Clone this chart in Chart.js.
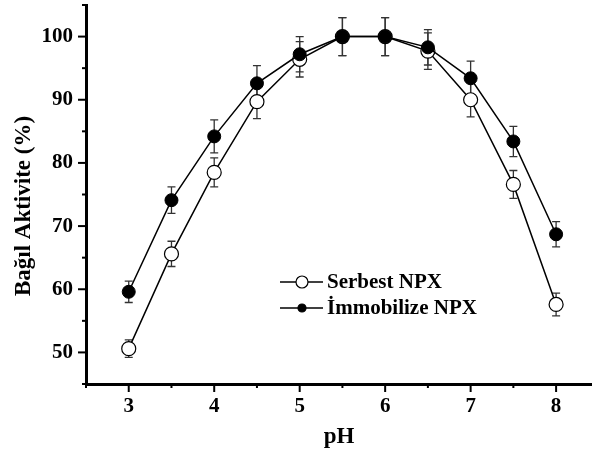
<!DOCTYPE html>
<html>
<head>
<meta charset="utf-8">
<script src="https://cdn.jsdelivr.net/npm/chart.js@4.4.0/dist/chart.umd.min.js"></script>
<style>
  html, body { margin: 0; padding: 0; background: #fff; }
  #wrap { width: 592px; height: 454px; }
</style>
</head>
<body>
<div id="wrap"><canvas id="chart" width="592" height="454"></canvas></div>
<script>
const phValues = [3, 3.5, 4, 4.5, 5, 5.5, 6, 6.5, 7, 7.5, 8];
const serbest = [50.6, 65.6, 78.5, 89.7, 96.4, 100, 100, 97.7, 90.0, 76.6, 57.6];
const serbestErr = [1.4, 2.0, 2.3, 2.7, 2.8, 3.0, 3.0, 2.9, 2.7, 2.2, 1.8];
const immobilize = [59.6, 74.1, 84.2, 92.6, 97.2, 100, 100, 98.3, 93.4, 83.4, 68.7];
const immobilizeErr = [1.7, 2.1, 2.6, 2.8, 2.8, 3.0, 3.0, 2.8, 2.7, 2.4, 2.0];
const xMajorTicks = [3, 4, 5, 6, 7, 8];
const xMinorTicks = [2.5, 3.5, 4.5, 5.5, 6.5, 7.5];
const yMajorTicks = [50, 60, 70, 80, 90, 100];
const yMinorTicks = [45, 55, 65, 75, 85, 95, 105];
const seriesLabels = ["Serbest NPX", "İmmobilize NPX"];
const xTitle = "pH";
const yTitle = "Bağıl Aktivite (%)";

const FONT = "'Liberation Serif', 'Times New Roman', serif";
Chart.defaults.font.family = FONT;
Chart.defaults.font.weight = "bold";
Chart.defaults.color = "#000";

// markers may hang over the plot edge like in the original, no extra room for them
Chart.LineController.prototype.getMaxOverflow = function () { return 0; };

const toPoints = (ys) => ys.map((y, i) => ({ x: phValues[i], y: y }));

// error bars, drawn under the markers
const errorBars = {
    id: "errorBars",
    beforeDatasetsDraw(chart) {
        const { ctx, scales: { x, y } } = chart;
        ctx.save();
        ctx.strokeStyle = "#333";
        ctx.lineWidth = 1.3;
        chart.data.datasets.forEach(ds => {
            ds.errors.forEach((e, i) => {
                const px = x.getPixelForValue(ds.data[i].x);
                const top = y.getPixelForValue(ds.data[i].y + e);
                const bot = y.getPixelForValue(ds.data[i].y - e);
                ctx.beginPath();
                ctx.moveTo(px, top); ctx.lineTo(px, bot);
                ctx.moveTo(px - 4, top); ctx.lineTo(px + 4, top);
                ctx.moveTo(px - 4, bot); ctx.lineTo(px + 4, bot);
                ctx.stroke();
            });
        });
        ctx.restore();
    }
};

// outward tick marks, y title and the legend inside the plot
const decorations = {
    id: "decorations",
    afterDraw(chart) {
        const { ctx, chartArea, scales: { x, y } } = chart;
        ctx.save();
        ctx.strokeStyle = "#000";
        ctx.lineWidth = 2;
        const xTick = (v, len) => {
            const px = x.getPixelForValue(v);
            ctx.beginPath(); ctx.moveTo(px, chartArea.bottom); ctx.lineTo(px, chartArea.bottom + len); ctx.stroke();
        };
        const yTick = (v, len) => {
            const py = y.getPixelForValue(v);
            ctx.beginPath(); ctx.moveTo(chartArea.left, py); ctx.lineTo(chartArea.left - len, py); ctx.stroke();
        };
        xMajorTicks.forEach(v => xTick(v, 8));
        xMinorTicks.forEach(v => xTick(v, 4));
        yMajorTicks.forEach(v => yTick(v, 8));
        yMinorTicks.forEach(v => yTick(v, 4));

        ctx.fillStyle = "#000";
        ctx.font = "bold 23px " + FONT;
        ctx.textAlign = "center";
        ctx.textBaseline = "middle";
        ctx.translate(24, 206);
        ctx.rotate(-Math.PI / 2);
        ctx.fillText(yTitle, 0, 0);
        ctx.restore();

        // legend
        ctx.save();
        const rows = [282, 308];
        chart.data.datasets.forEach((ds, k) => {
            const ly = rows[k];
            ctx.strokeStyle = "#000";
            ctx.lineWidth = 1.5;
            ctx.beginPath(); ctx.moveTo(280, ly); ctx.lineTo(323, ly); ctx.stroke();
            ctx.beginPath();
            ctx.arc(302, ly, k === 0 ? 6 : 4, 0, Math.PI * 2);
            ctx.fillStyle = ds.pointBackgroundColor;
            ctx.fill();
            ctx.lineWidth = 1.2;
            ctx.stroke();
            ctx.fillStyle = "#000";
            ctx.font = "bold 21px " + FONT;
            ctx.textAlign = "left";
            ctx.textBaseline = "middle";
            ctx.fillText(ds.label, 327, ly + 1);
        });
        ctx.restore();
    }
};

const ctx = document.getElementById("chart").getContext("2d");
const chart = new Chart(ctx, {
    type: "line",
    data: {
        datasets: [
            {
                label: seriesLabels[0],
                data: toPoints(serbest),
                errors: serbestErr,
                borderColor: "#000",
                borderWidth: 1.5,
                pointRadius: 7,
                pointBorderWidth: 1.2,
                pointBackgroundColor: "#fff",
                pointBorderColor: "#000",
                tension: 0,
                clip: false,
                order: 1
            },
            {
                label: seriesLabels[1],
                data: toPoints(immobilize),
                errors: immobilizeErr,
                borderColor: "#000",
                borderWidth: 1.5,
                pointRadius: 6.5,
                pointBorderWidth: 1,
                pointBackgroundColor: "#000",
                pointBorderColor: "#000",
                tension: 0,
                clip: false,
                order: 0
            }
        ]
    },
    options: {
        responsive: false,
        animation: false,
        layout: { padding: { top: 5, right: 0, left: 0, bottom: 0 } },
        plugins: {
            legend: { display: false },
            tooltip: { enabled: false }
        },
        scales: {
            x: {
                type: "linear",
                min: 2.5,
                max: 8.42,
                afterBuildTicks: (s) => { s.ticks = xMajorTicks.map(v => ({ value: v })); },
                afterFit: (s) => { s.height = 70; s.paddingLeft = 0; s.paddingRight = 0; },
                grid: { display: true, drawOnChartArea: false, drawTicks: false },
                border: { display: true, color: "#000", width: 3 },
                ticks: { font: { size: 21, weight: "bold" }, padding: 10, maxRotation: 0 },
                title: { display: true, text: xTitle, font: { size: 23, weight: "bold" }, padding: { top: 0, bottom: 3 } }
            },
            y: {
                type: "linear",
                min: 45,
                max: 105,
                afterBuildTicks: (s) => { s.ticks = yMajorTicks.map(v => ({ value: v })); },
                afterFit: (s) => { s.width = 86; s.paddingTop = 0; s.paddingBottom = 0; },
                grid: { display: true, drawOnChartArea: false, drawTicks: false },
                border: { display: true, color: "#000", width: 3 },
                ticks: { font: { size: 21, weight: "bold" }, padding: 13 }
            }
        }
    },
    plugins: [errorBars, decorations]
});
</script>
</body>
</html>
